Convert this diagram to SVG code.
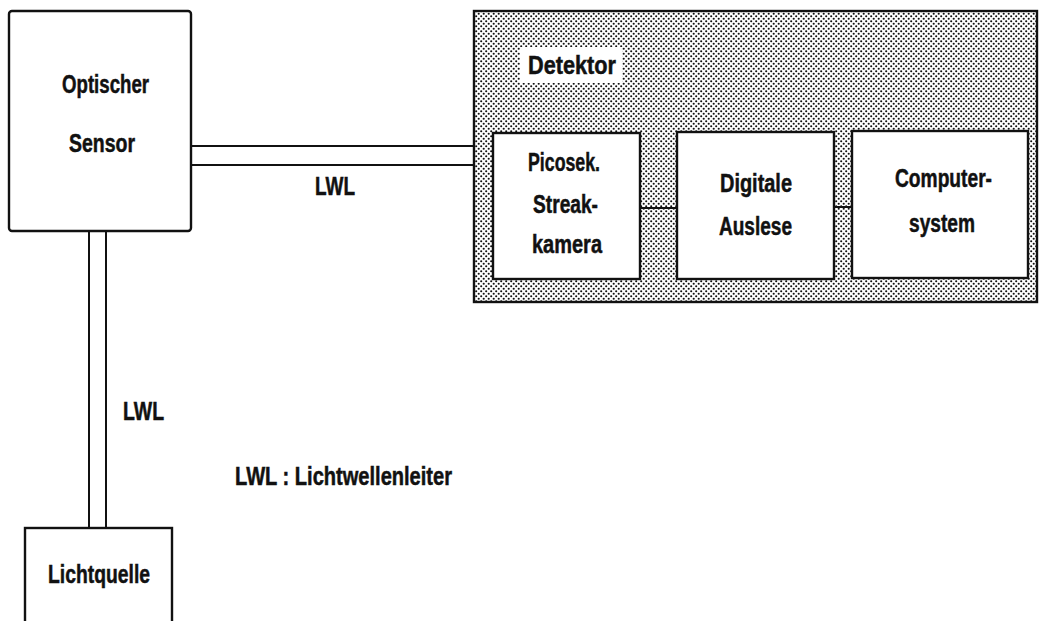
<svg xmlns="http://www.w3.org/2000/svg" width="1042" height="621" viewBox="0 0 1042 621">
<style>
.box{fill:#fff;stroke:#111;stroke-width:2.4}
.ln{stroke:#111;stroke-width:2;fill:none}
text{font-family:"Liberation Sans",Arial,sans-serif;font-weight:bold;font-size:25px;fill:#111;stroke:#111;stroke-width:0.5}
</style>
<defs>
<pattern id="dots" width="5" height="5" patternUnits="userSpaceOnUse">
<rect width="5" height="5" fill="#fff"/>
<circle cx="1.2" cy="1.2" r="1.05" fill="#111"/>
<circle cx="3.7" cy="3.7" r="1.05" fill="#111"/>
</pattern>
</defs>
<rect width="1042" height="621" fill="#fff"/>
<g id="connectors">
<line class="ln" x1="191" y1="146" x2="474" y2="146"/>
<line class="ln" x1="191" y1="165" x2="474" y2="165"/>
<line class="ln" x1="89" y1="231" x2="89" y2="528"/>
<line class="ln" x1="106" y1="231" x2="106" y2="528"/>
</g>
<g id="detektor">
<rect x="474" y="11" width="563" height="291" fill="url(#dots)" stroke="#111" stroke-width="2.4"/>
<rect x="520" y="47" width="102" height="36" fill="#fff"/>
<text x="528" y="74" textLength="88" lengthAdjust="spacingAndGlyphs">Detektor</text>
<line class="ln" x1="640" y1="208" x2="677" y2="208"/>
<line class="ln" x1="834" y1="207" x2="852" y2="207"/>
</g>
<g id="sensor">
<rect class="box" x="9" y="11" width="182" height="220" rx="3"/>
<text x="62" y="93" textLength="87" lengthAdjust="spacingAndGlyphs">Optischer</text>
<text x="69" y="152" textLength="66" lengthAdjust="spacingAndGlyphs">Sensor</text>
</g>
<g id="streak">
<rect class="box" x="493" y="133" width="147" height="146"/>
<text x="528" y="171" textLength="72" lengthAdjust="spacingAndGlyphs">Picosek.</text>
<text x="533" y="213" textLength="65" lengthAdjust="spacingAndGlyphs">Streak-</text>
<text x="532" y="253" textLength="70" lengthAdjust="spacingAndGlyphs">kamera</text>
</g>
<g id="auslese">
<rect class="box" x="677" y="132" width="157" height="147"/>
<text x="720" y="192" textLength="72" lengthAdjust="spacingAndGlyphs">Digitale</text>
<text x="719" y="235" textLength="73" lengthAdjust="spacingAndGlyphs">Auslese</text>
</g>
<g id="computer">
<rect class="box" x="852" y="131" width="176" height="147"/>
<text x="895" y="187" textLength="97" lengthAdjust="spacingAndGlyphs">Computer-</text>
<text x="909" y="232" textLength="66" lengthAdjust="spacingAndGlyphs">system</text>
</g>
<g id="lichtquelle">
<rect class="box" x="25" y="528" width="147" height="110"/>
<text x="48" y="583" textLength="102" lengthAdjust="spacingAndGlyphs">Lichtquelle</text>
</g>
<g id="labels">
<text x="315" y="195" textLength="40" lengthAdjust="spacingAndGlyphs">LWL</text>
<text x="123" y="420" textLength="41" lengthAdjust="spacingAndGlyphs">LWL</text>
<text x="235" y="485" textLength="217" lengthAdjust="spacingAndGlyphs">LWL : Lichtwellenleiter</text>
</g>
</svg>
